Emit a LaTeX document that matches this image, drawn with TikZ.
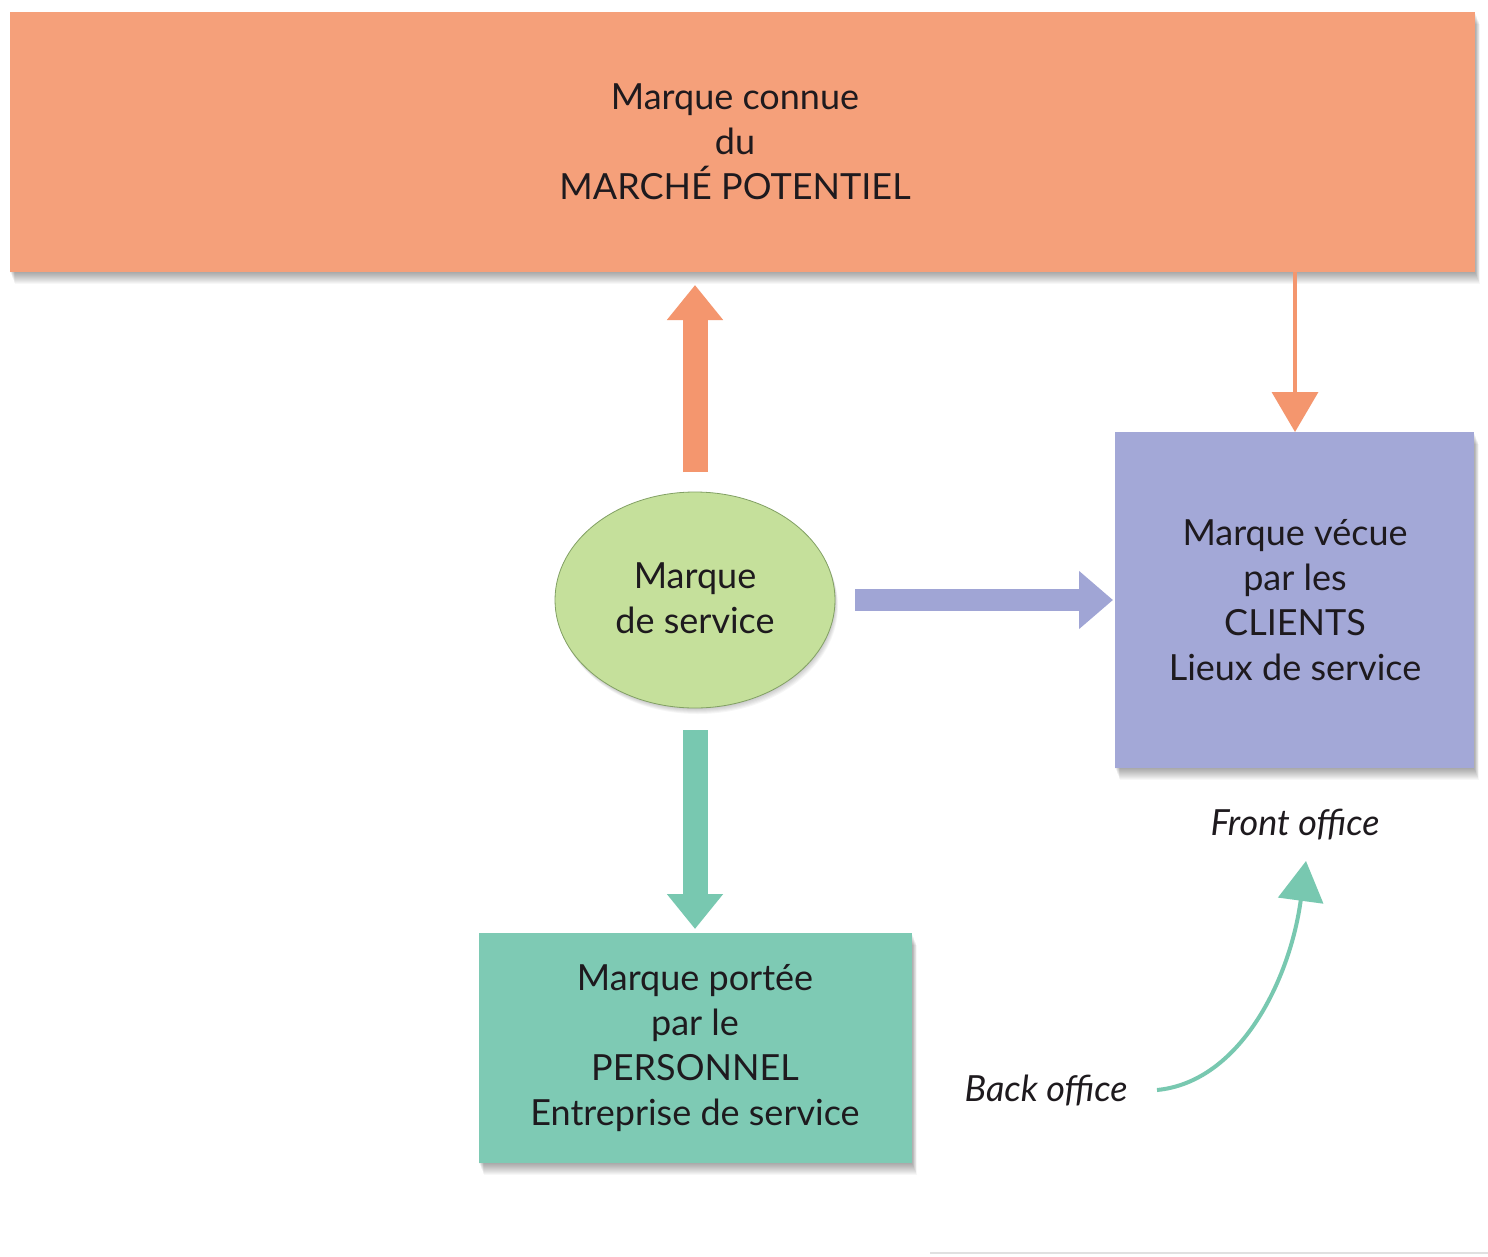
\documentclass[tikz,border=0pt]{standalone}
\usepackage{fontspec}
\setmainfont{Lato}
\usetikzlibrary{arrows.meta,shapes.geometric}
\definecolor{salmon}{RGB}{245,160,122}
\definecolor{salmonarr}{RGB}{244,150,110}
\definecolor{lilac}{RGB}{163,168,215}
\definecolor{lilacarr}{RGB}{160,165,213}
\definecolor{tealbox}{RGB}{126,202,180}
\definecolor{tealarr}{RGB}{120,200,176}
\definecolor{leaf}{RGB}{197,224,155}
\definecolor{leafline}{RGB}{130,160,100}
\definecolor{ink}{RGB}{30,26,30}
\tikzset{
  txt/.style={font=\fontsize{36}{45}\selectfont, text=ink, align=center},
  bigarrow/.style={line width=25pt, -{Triangle[length=35pt,width=54pt]}},
  thinarrow/.style={line width=3.5pt, -{Triangle[length=40pt,width=46pt]}},
}
\newcommand{\myshadow}[4]{%
  \foreach \k in {1,...,12}{\fill[black, opacity=0.03] ({#1+0.4*\k},{#2+\k}) rectangle ({#3+0.4*\k},{#4+\k});}}
\begin{document}
\begin{tikzpicture}[x=1pt,y=-1pt]
\useasboundingbox (0,0) rectangle (1488,1256);
\fill[white] (0,0) rectangle (1488,1256);
% top box
\myshadow{10}{12}{1475}{272}
\path[fill=salmon] (10,12) rectangle (1475,272);
\node[txt] (top) at (735,142) {Marque connue\\du\\MARCHÉ POTENTIEL};
% purple box
\myshadow{1115}{432}{1474}{768}
\path[fill=lilac] (1115,432) rectangle (1474,768);
\node[txt] (cli) at (1295,600) {Marque vécue\\par les\\CLIENTS\\Lieux de service};
% teal box
\myshadow{479}{933}{912}{1163}
\path[fill=tealbox] (479,933) rectangle (912,1163);
\node[txt] (pers) at (695,1048) {Marque portée\\par le\\PERSONNEL\\Entreprise de service};
% ellipse
\foreach \k in {1,...,6}{\fill[black, opacity=0.035] ({695+0.5*\k},{600+\k}) ellipse (140pt and 108pt);}
\node[ellipse, fill=leaf, draw=leafline, line width=0.8pt, minimum width=280pt, minimum height=216pt] (ell) at (695,600) {};
\node[txt] at (695,598) {Marque\\de service};
% labels
\node[txt, font=\fontsize{36}{45}\selectfont\itshape] (fo) at (1295,825) {Front office};
\node[txt, font=\fontsize{36}{45}\selectfont\itshape] (bo) at (1046,1090) {Back office};
% arrows
\coordinate (upA) at (695,472);
\coordinate (upB) at (695,285);
\draw[bigarrow, salmonarr] (upA) -- (upB);
\coordinate (dnA) at (1295,272);
\coordinate (dnB) at (1295,432);
\draw[thinarrow, salmonarr] (dnA) -- (dnB);
\coordinate (rtA) at (855,600);
\coordinate (rtB) at (1113,600);
\draw[bigarrow, line width=22pt, lilacarr, -{Triangle[length=34pt,width=56pt]}] (rtA) -- (rtB);
\coordinate (tdA) at (695,730);
\coordinate (tdB) at (695,929);
\draw[bigarrow, tealarr] (tdA) -- (tdB);
\coordinate (cvA) at (1157,1090);
\coordinate (cvB) at (1306,861);
\draw[tealarr, line width=4pt, -{Triangle[length=40pt,width=45pt]}] (cvA) .. controls (1240,1082) and (1290,980) .. (cvB);
\draw[black!12, line width=2pt] (930,1253) -- (1488,1253);
\end{tikzpicture}
\end{document}
